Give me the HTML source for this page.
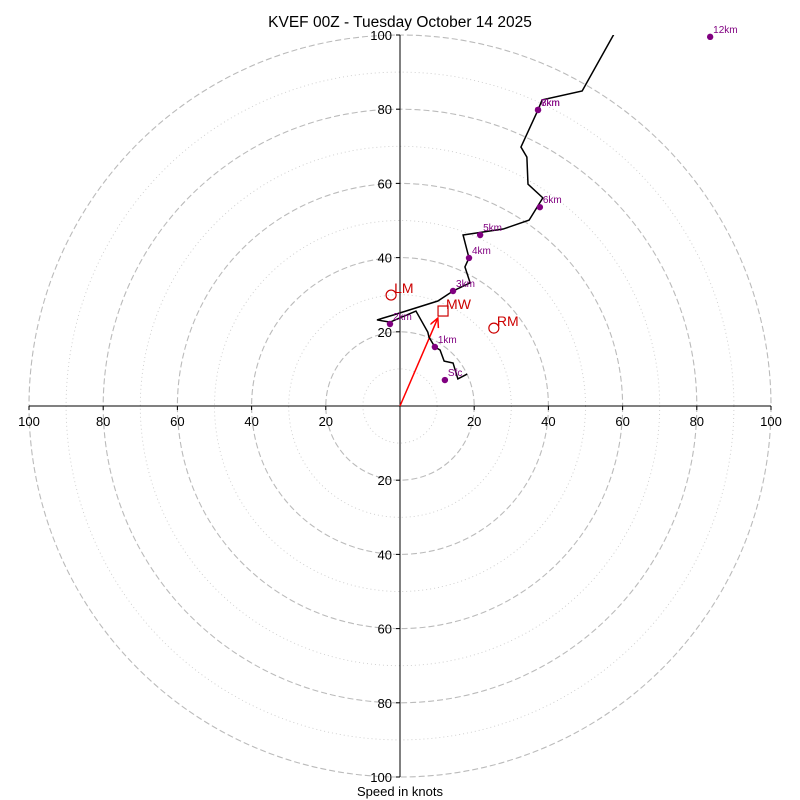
<!DOCTYPE html>
<html><head><meta charset="utf-8"><style>
html,body{margin:0;padding:0;background:#fff;}
svg{display:block;font-family:"Liberation Sans","DejaVu Sans",sans-serif;}
</style></head><body>
<svg id="chart" width="800" height="800" viewBox="0 0 800 800">
<text x="400" y="27" text-anchor="middle" font-size="15.5">KVEF 00Z - Tuesday October 14 2025</text>
<text x="400" y="796" text-anchor="middle" font-size="13">Speed in knots</text>
<defs><clipPath id="clip"><rect x="29" y="35" width="742" height="742"/></clipPath>
<marker id="ah" markerWidth="8" markerHeight="8" refX="6" refY="3" orient="auto"><path d="M0,0 L6,3 L0,6" fill="none" stroke="red" stroke-width="1"/></marker></defs>
</svg>
<script>
const ringSpeeds=[10,20,30,40,50,60,70,80,90,100];
const tickLabels=[20,40,60,80,100];
const traceU=[18.1,15.6,14.3,11.9,10.8,9.4,7.8,7.5,4.3,-2.7,-6.2,-1.9,10.2,14.3,18.9,17.5,18.6,17.0,27.8,34.8,38.5,34.5,34.2,32.6,37.2,38.3,49.1,62.0];
const traceV=[8.6,7.3,11.6,12.1,15.1,15.9,18.6,19.9,25.6,22.6,23.2,24.5,28.3,31.0,33.2,37.5,39.9,46.1,47.7,50.1,56.1,59.8,67.1,69.8,79.8,82.5,84.9,108.0];
const markerLabels=["Sfc","1km","2km","3km","4km","5km","6km","7km","8km","12km"];
const markerU=[12.1,9.4,-2.7,14.3,18.6,21.6,37.7,37.2,37.2,83.6];
const markerV=[7.0,15.9,22.1,31.0,39.9,46.1,53.6,79.8,79.8,99.5];
const stormLabels=["LM","RM","MW"];
const stormU=[-2.4,25.3,11.6];
const stormV=[29.9,21.0,25.6];
const shearU=10.2, shearV=23.7;

const NS="http://www.w3.org/2000/svg";
const svg=document.getElementById('chart');
const cx=400, cy=406, k=3.71;
const X=u=>cx+u*k, Y=v=>cy-v*k;
function mk(tag,attrs,parent){const e=document.createElementNS(NS,tag);for(const a in attrs)e.setAttribute(a,attrs[a]);(parent||svg).appendChild(e);return e;}

ringSpeeds.forEach(s=>{
  const c=mk('circle',{cx:cx,cy:cy,r:s*k,fill:'none',stroke:s%20===0?'#bbb':'#ccc','stroke-width':s%20===0?1.1:0.9,'stroke-dasharray':s%20===0?'6,3':'1,3'});
  
  
});
const xa=mk('line',{x1:X(-100),y1:cy,x2:X(100),y2:cy,stroke:'#000','stroke-width':1});


const ya=mk('line',{x1:cx,y1:Y(100),x2:cx,y2:Y(-100),stroke:'#000','stroke-width':1});


tickLabels.forEach(t=>{
  [-1,1].forEach(sg=>{
    mk('line',{x1:X(sg*t),y1:cy,x2:X(sg*t),y2:cy+4,stroke:'#000'});
    const tx=mk('text',{x:X(sg*t),y:cy+20,'text-anchor':'middle','font-size':13});
    tx.textContent=t;
    
    
    mk('line',{x1:cx-4,y1:Y(sg*t),x2:cx,y2:Y(sg*t),stroke:'#000'});
    const ty=mk('text',{x:cx-8,y:Y(sg*t)+5,'text-anchor':'end','font-size':13});
    ty.textContent=t;
    
    
  });
});
const g=mk('g',{'clip-path':'url(#clip)'});
const ar=mk('line',{x1:X(0),y1:Y(0),x2:X(shearU),y2:Y(shearV),stroke:'red','stroke-width':1.5,'marker-end':'url(#ah)'},g);


const pts=traceU.map((u,i)=>X(u)+','+Y(traceV[i])).join(' ');
const pl=mk('polyline',{points:pts,fill:'none',stroke:'#000','stroke-width':1.5},g);


markerLabels.forEach((l,i)=>{
  const c=mk('circle',{cx:X(markerU[i]),cy:Y(markerV[i]),r:3.2,fill:'purple'});
  
  
  const t=mk('text',{x:X(markerU[i])+3,y:Y(markerV[i])-4,'font-size':10,fill:'purple'});
  t.textContent=l;
  
  
});
stormLabels.forEach((l,i)=>{
  const x=X(stormU[i]), y=Y(stormV[i]);
  let m;
  if(l==='MW') m=mk('rect',{x:x-5,y:y-5,width:10,height:10,fill:'none',stroke:'#c00','stroke-width':1.2});
  else m=mk('circle',{cx:x,cy:y,r:5,fill:'none',stroke:'#c00','stroke-width':1.2});
  
  
  const t=mk('text',{x:x+3,y:y-2,'font-size':14,fill:'#c00'});
  t.textContent=l;
  
  
});
</script>
</body></html>
